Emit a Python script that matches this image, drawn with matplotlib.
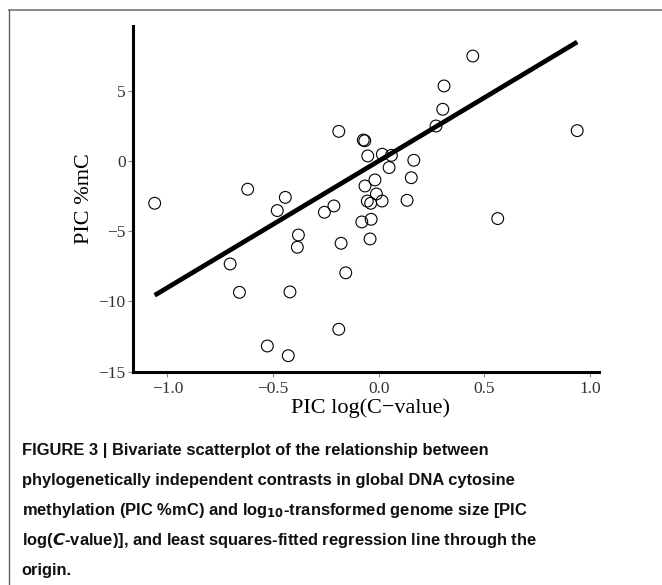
import numpy as np
import matplotlib
matplotlib.use("Agg")
import matplotlib.pyplot as plt
from matplotlib.lines import Line2D

# PIC log(C-value) and PIC %mC
pic_logc = [-1.060, -0.703, -0.659, -0.620, -0.527, -0.480, -0.442, -0.428, -0.420,
            -0.380, -0.385, -0.257, -0.212, -0.189, -0.189, -0.178, -0.156, -0.080,
            -0.073, -0.066, -0.065, -0.054, -0.052, -0.041, -0.038, -0.036, -0.018,
            -0.011, 0.016, 0.017, 0.049, 0.060, 0.134, 0.154, 0.166, 0.271, 0.303,
            0.309, 0.445, 0.563, 0.939]
pic_mc = [-3.01, -7.33, -9.35, -2.01, -13.17, -3.53, -2.59, -13.86, -9.32,
          -5.27, -6.14, -3.65, -3.20, 2.11, -11.98, -5.86, -7.96, -4.34,
          1.49, 1.44, -1.78, -2.85, 0.36, -5.55, -3.01, -4.15, -1.35,
          -2.35, -2.85, 0.48, -0.47, 0.40, -2.80, -1.19, 0.05, 2.49, 3.68,
          5.34, 7.47, -4.10, 2.16]
slope = 9.02  # regression through the origin

x_ticks = [-1.0, -0.5, 0.0, 0.5, 1.0]
y_ticks = [-15, -10, -5, 0, 5]

caption_lines = [
    "FIGURE 3 | Bivariate scatterplot of the relationship between",
    "phylogenetically independent contrasts in global DNA cytosine",
    r"methylation (PIC %mC) and log$_{10}$-transformed genome size [PIC",
    r"log($\it{C}$-value)], and least squares-fitted regression line through the",
    "origin.",
]

serif = ["Liberation Serif", "DejaVu Serif"]
cap_font = ["Liberation Sans Narrow", "Liberation Sans", "DejaVu Sans"]
plt.rcParams["mathtext.fontset"] = "custom"
plt.rcParams["mathtext.rm"] = "Liberation Sans Narrow:bold"
plt.rcParams["mathtext.it"] = "Liberation Sans Narrow:italic:bold"
plt.rcParams["mathtext.bf"] = "Liberation Sans Narrow:bold"

fig = plt.figure(figsize=(6.62, 5.85), dpi=100)
ax = fig.add_axes([0.2014, 0.3646, 0.7034, 0.591])

x = np.array(pic_logc)
y = np.array(pic_mc)
ax.scatter(x, y, s=72, facecolors="none", edgecolors="black", linewidths=0.8, zorder=3)

xl = np.array([x.min(), x.max()])
ax.plot(xl, slope * xl, color="black", lw=3.4, solid_capstyle="butt", zorder=2)

ax.set_xlim(-1.161, 1.042)
ax.set_ylim(-15, 9.61)
ax.set_xticks(x_ticks)
ax.set_xticklabels([f"{t:.1f}".replace("-", "\u2212") for t in x_ticks])
ax.set_yticks(y_ticks)
ax.set_yticklabels([str(t).replace("-", "\u2212") for t in y_ticks])

for s in ["top", "right"]:
    ax.spines[s].set_visible(False)
for s in ["left", "bottom"]:
    ax.spines[s].set_linewidth(2.2)
    ax.spines[s].set_color("black")

ax.tick_params(axis="both", direction="out", length=3.5, width=0.8, color="#888888",
               labelsize=12.5)
ax.tick_params(axis="x", pad=3)
ax.tick_params(axis="y", pad=2)
for lab in ax.get_xticklabels() + ax.get_yticklabels():
    lab.set_fontfamily(serif)
    lab.set_color("#333333")

ax.set_xlabel("PIC log(C\u2212value)", fontsize=16, family=serif)
ax.xaxis.set_label_coords(0.51, -0.1195)
ax.xaxis.label.set_va("baseline")
ax.set_ylabel("PIC %mC", fontsize=16, family=serif)
ax.yaxis.set_label_coords(-0.105, 0.5)
ax.yaxis.label.set_va("center")

# caption under the chart
for i, line in enumerate(caption_lines):
    fig.text(21.7 / 662, 1 - (454.5 + 30 * i) / 585, line, fontsize=11.85,
             fontweight="bold", family=cap_font, color="#111111", va="baseline")

# grey frame on top and left
fig.add_artist(Line2D([8.5 / 662, 1], [1 - 9.5 / 585, 1 - 9.5 / 585],
                      transform=fig.transFigure, color="#808080", lw=1.3))
fig.add_artist(Line2D([8.5 / 662, 8.5 / 662], [0, 1 - 9.5 / 585],
                      transform=fig.transFigure, color="#606060", lw=1.0))

fig.savefig("out.png", dpi=100)
